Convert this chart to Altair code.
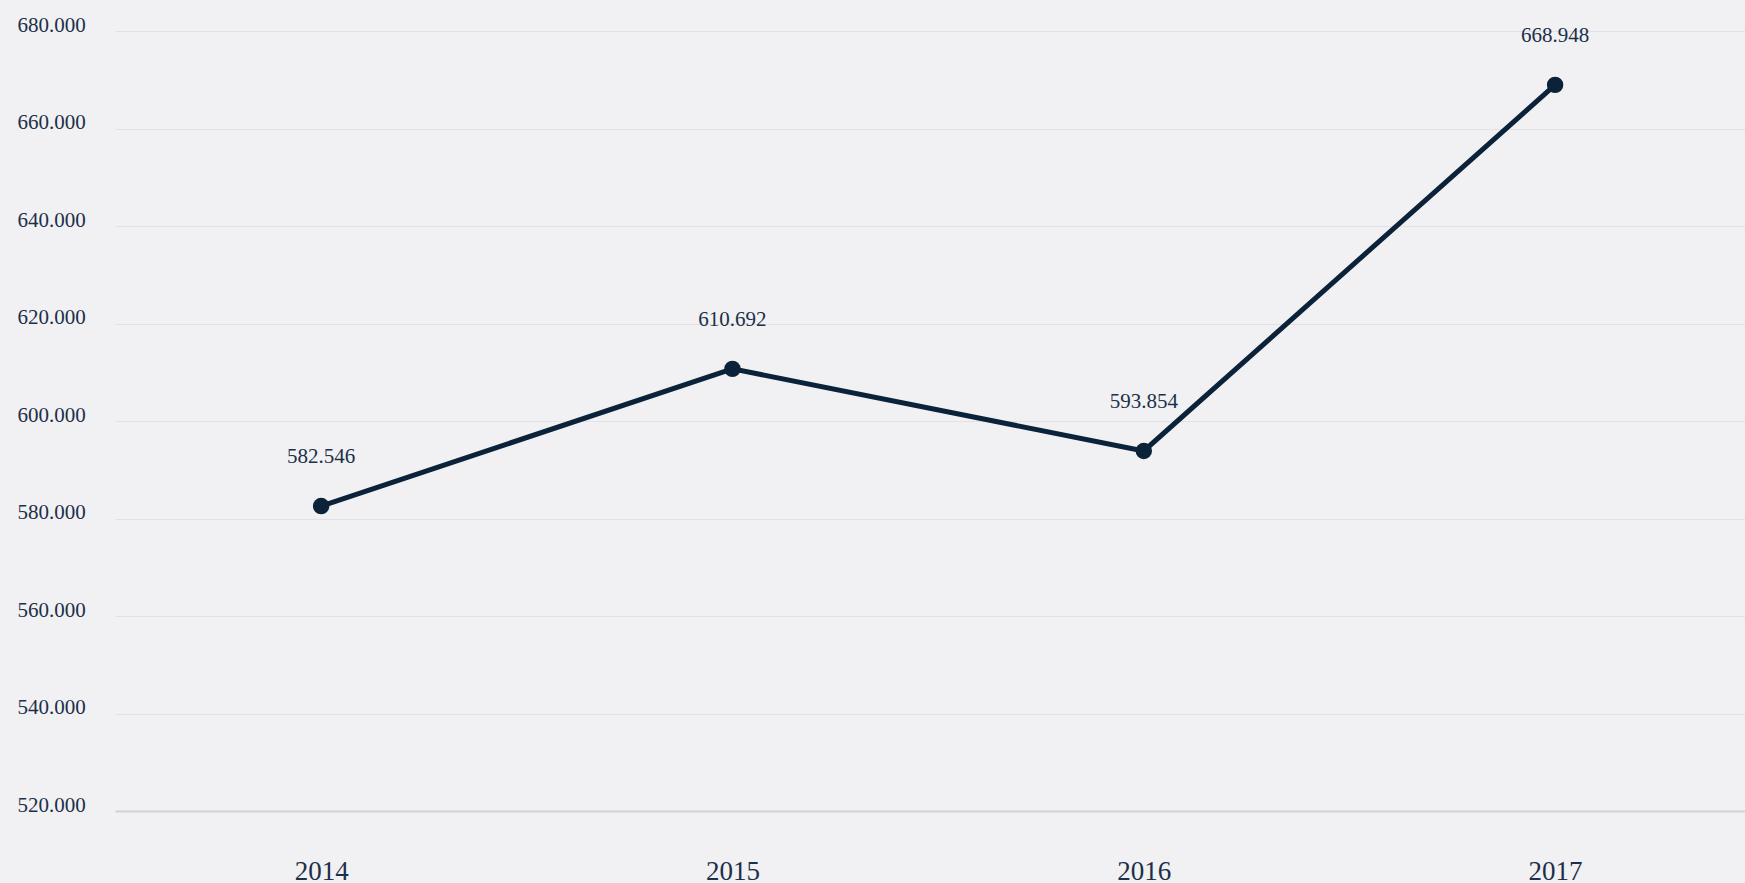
import altair as alt
import pandas as pd

years = ["2014", "2015", "2016", "2017"]
values = [582546, 610692, 593854, 668948]
y_ticks = [520000, 540000, 560000, 580000, 600000, 620000, 640000, 660000, 680000]

df = pd.DataFrame({"year": years, "value": values})

FONT = "Liberation Serif"
NAVY = "#0b2239"
TEXT = "#1c3048"

x = alt.X("year:O", title=None, sort=years,
          scale=alt.Scale(type="point", padding=0.4814, align=0.5205),
          axis=alt.Axis(labelAngle=0, labelFont=FONT, labelFontSize=27, labelColor=TEXT,
                        labelBaseline="alphabetic", labelPadding=68, ticks=False,
                        domain=True, domainColor="#d2d2d6", domainWidth=2, grid=False))
y = alt.Y("value:Q", title=None,
          scale=alt.Scale(domain=[520000, 680000], nice=False, zero=False),
          axis=alt.Axis(values=y_ticks, labelFont=FONT, labelFontSize=21, labelColor=TEXT,
                        labelAlign="left", labelBaseline="alphabetic", labelPadding=98,
                        ticks=False, domain=False, grid=True, gridColor="#e2e2e6",
                        gridWidth=1,
                        labelExpr="replace(format(datum.value, ','), ',', '.')"))

base = alt.Chart(df).encode(x=x, y=y)

line = base.mark_line(color=NAVY, strokeWidth=5)
pts = base.mark_point(filled=True, color=NAVY, size=270, opacity=1)
labels = base.transform_calculate(
    label="replace(format(datum.value, ','), ',', '.')"
).mark_text(font=FONT, fontSize=21, color=TEXT, dy=-49, baseline="middle").encode(
    text="label:N")

chart = alt.layer(line, pts, labels).properties(
    width=1630, height=780,
    padding={"left": 115, "top": 31, "right": 0, "bottom": 72},
    autosize=alt.AutoSizeParams(type="none"),
    background="#f1f1f4",
).configure_view(stroke=None)

chart.save("out.html", embed_options={"renderer": "svg", "actions": False})
